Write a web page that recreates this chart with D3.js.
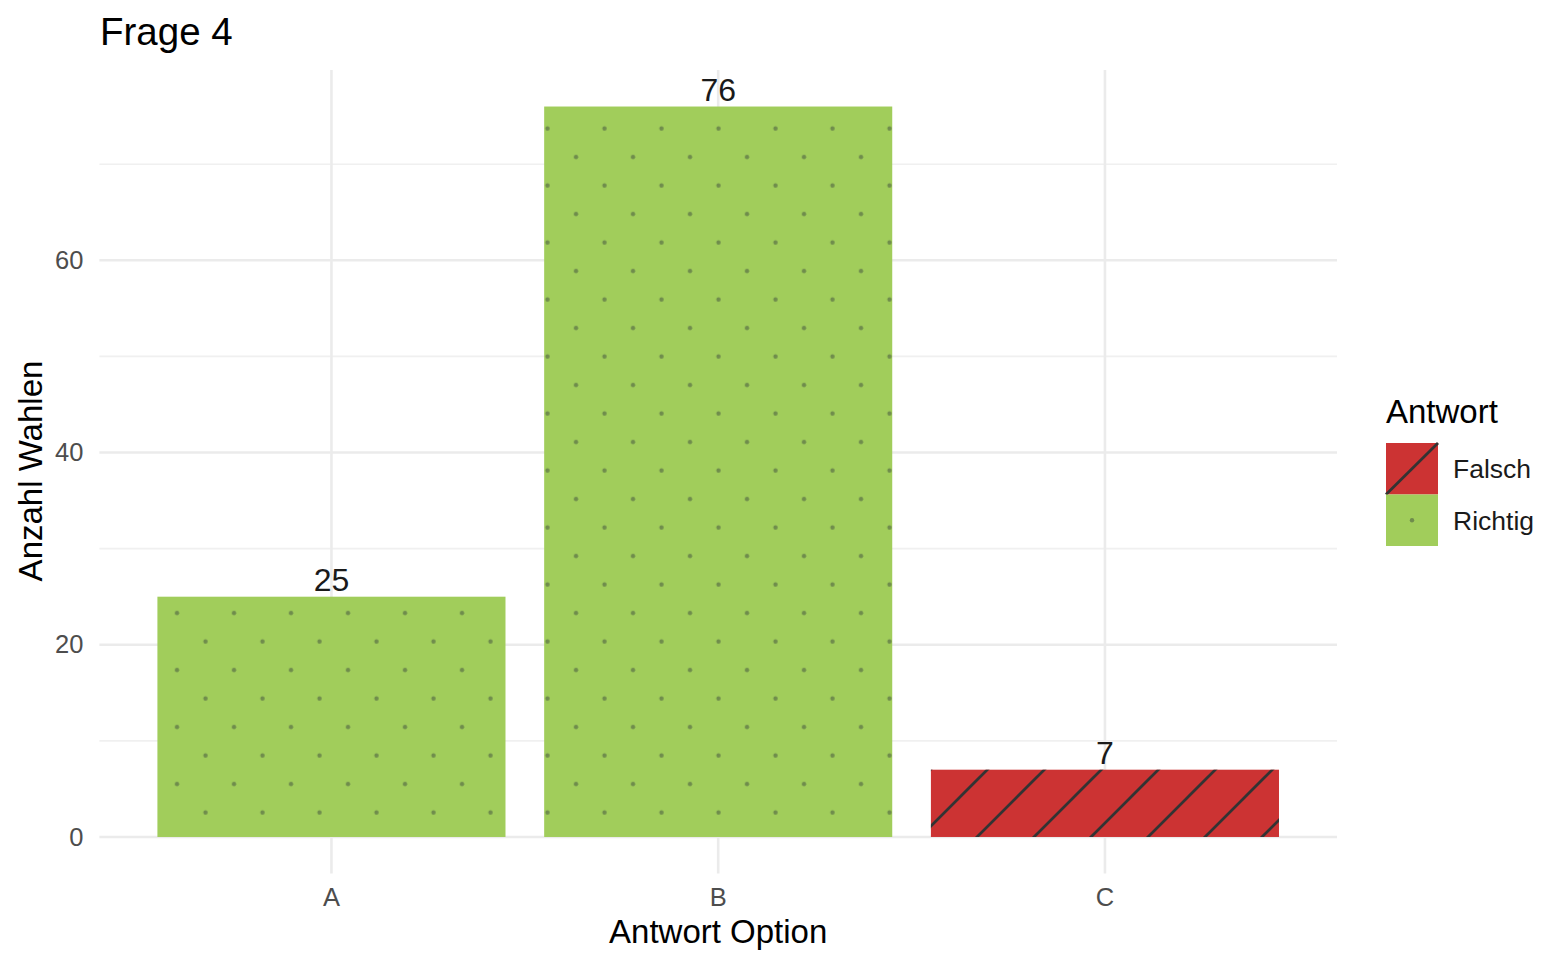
<!DOCTYPE html>
<html lang="de">
	<head>
		<meta charset="utf-8">
		<title>Frage 4</title>
		<script type="text/javascript" src="https://cdn.jsdelivr.net/npm/d3@7"></script>
		<style type="text/css">
			html, body {
				margin: 0;
				padding: 0;
				background: #ffffff;
				font-family: "Liberation Sans", Arial, sans-serif;
			}
		</style>
	</head>
	<body>
		<script type="text/javascript">

			//Data
			let categories = ["A", "B", "C"];
			let counts = [25, 76, 7];
			let answers = ["Richtig", "Richtig", "Falsch"];
			let majorTicks = [0, 20, 40, 60];
			let minorTicks = [10, 30, 50, 70];
			let legendLabels = ["Falsch", "Richtig"];

			let colors = {Falsch: "#cc3333", Richtig: "#a1cd5b"};

			//Width and height
			let w = 1568;
			let h = 968;
			let panelLeft = 99.4, panelRight = 1337, panelTop = 70, panelBottom = 873.5;

			let bars = categories.map((c, i) => ({cat: c, n: counts[i], answer: answers[i]}));

			let svg = d3.select("body")
						.append("svg")
						.attr("width", w)
						.attr("height", h);

			let xScale = d3.scaleBand()
							.domain(categories)
							.range([panelLeft, panelRight])
							.paddingInner(0.1)
							.paddingOuter(0.15);

			// ggplot style expansion: 5% on each side of 0..76
			let yMax = d3.max(counts);
			let yScale = d3.scaleLinear()
							.domain([-0.05 * yMax, yMax * 1.05])
							.range([panelBottom, panelTop]);

			// patterns
			let defs = svg.append("defs");

			let dots = defs.append("pattern")
				.attr("id", "dots")
				.attr("patternUnits", "userSpaceOnUse")
				.attr("x", -8.25)
				.attr("y", 28.75)
				.attr("width", 57)
				.attr("height", 57);
			dots.selectAll("circle")
				.data([[14.25, 14.25], [42.75, 42.75]])
				.enter()
				.append("circle")
				.attr("cx", d => d[0])
				.attr("cy", d => d[1])
				.attr("r", 2.2)
				.attr("fill", "#6f8c4c");

			defs.append("pattern")
				.attr("id", "hatch")
				.attr("patternUnits", "userSpaceOnUse")
				.attr("x", 47)
				.attr("y", 0)
				.attr("width", 57)
				.attr("height", 57)
				.append("path")
				.attr("d", "M-10,10L10,-10M0,57L57,0M47,67L67,47")
				.attr("stroke", "#333333")
				.attr("stroke-width", 2.8);

			//Grid
			let grid = svg.append("g");

			grid.selectAll("line.minor")
				.data(minorTicks)
				.enter()
				.append("line")
				.attr("class", "minor")
				.attr("x1", panelLeft)
				.attr("x2", panelRight)
				.attr("y1", d => yScale(d))
				.attr("y2", d => yScale(d))
				.attr("stroke", "#f0f0f0")
				.attr("stroke-width", 1.6);

			grid.selectAll("line.major")
				.data(majorTicks)
				.enter()
				.append("line")
				.attr("class", "major")
				.attr("x1", panelLeft)
				.attr("x2", panelRight)
				.attr("y1", d => yScale(d))
				.attr("y2", d => yScale(d))
				.attr("stroke", "#ebebeb")
				.attr("stroke-width", 2.6);

			grid.selectAll("line.vert")
				.data(categories)
				.enter()
				.append("line")
				.attr("class", "vert")
				.attr("x1", d => xScale(d) + xScale.bandwidth() / 2)
				.attr("x2", d => xScale(d) + xScale.bandwidth() / 2)
				.attr("y1", panelTop)
				.attr("y2", panelBottom)
				.attr("stroke", "#ebebeb")
				.attr("stroke-width", 2.6);

			//Bars
			let barG = svg.append("g");

			barG.selectAll("rect.fill")
				.data(bars)
				.enter()
				.append("rect")
				.attr("class", "fill")
				.attr("x", d => xScale(d.cat))
				.attr("y", d => yScale(d.n))
				.attr("width", xScale.bandwidth())
				.attr("height", d => yScale(0) - yScale(d.n))
				.attr("fill", d => colors[d.answer]);

			barG.selectAll("rect.pat")
				.data(bars)
				.enter()
				.append("rect")
				.attr("class", "pat")
				.attr("x", d => xScale(d.cat))
				.attr("y", d => yScale(d.n))
				.attr("width", xScale.bandwidth())
				.attr("height", d => yScale(0) - yScale(d.n))
				.attr("fill", d => d.answer == "Falsch" ? "url(#hatch)" : "url(#dots)");

			// value labels
			svg.selectAll("text.val")
				.data(bars)
				.enter()
				.append("text")
				.attr("class", "val")
				.attr("x", d => xScale(d.cat) + xScale.bandwidth() / 2)
				.attr("y", d => yScale(d.n) - 6)
				.attr("text-anchor", "middle")
				.attr("font-size", "32px")
				.attr("fill", "#1a1a1a")
				.text(d => d.n);

			//Axes
			let yAxis = d3.axisLeft(yScale)
				.tickValues(majorTicks)
				.tickSize(0)
				.tickPadding(16);

			let yG = svg.append("g")
				.attr("transform", "translate(" + panelLeft + ",0)")
				.call(yAxis);
			yG.select(".domain").remove();
			yG.selectAll("text")
				.attr("font-family", "Liberation Sans, Arial, sans-serif")
				.attr("font-size", "25.5px")
				.attr("fill", "#4d4d4d");

			let xAxis = d3.axisBottom(xScale)
				.tickSize(0)
				.tickPadding(14);

			let xG = svg.append("g")
				.attr("transform", "translate(0," + panelBottom + ")")
				.call(xAxis);
			xG.select(".domain").remove();
			xG.selectAll("text")
				.attr("font-family", "Liberation Sans, Arial, sans-serif")
				.attr("font-size", "25.5px")
				.attr("fill", "#4d4d4d");

			//Titles
			svg.append("text")
				.attr("x", 100)
				.attr("y", 45)
				.attr("font-size", "38.5px")
				.attr("fill", "#000000")
				.text("Frage 4");

			svg.append("text")
				.attr("x", (panelLeft + panelRight) / 2)
				.attr("y", 943)
				.attr("text-anchor", "middle")
				.attr("font-size", "33px")
				.attr("fill", "#000000")
				.text("Antwort Option");

			svg.append("text")
				.attr("transform", "rotate(-90)")
				.attr("x", -471)
				.attr("y", 42)
				.attr("text-anchor", "middle")
				.attr("font-size", "33px")
				.attr("fill", "#000000")
				.text("Anzahl Wahlen");

			//Legend
			let legend = svg.append("g")
				.attr("transform", "translate(1386,0)");

			legend.append("text")
				.attr("x", 0)
				.attr("y", 423)
				.attr("font-size", "33px")
				.attr("fill", "#000000")
				.text("Antwort");

			let keySize = 51.5;
			let keyTop = 443;

			let keys = legend.selectAll("g.key")
				.data(legendLabels)
				.enter()
				.append("g")
				.attr("class", "key")
				.attr("transform", (d, i) => "translate(0," + (keyTop + i * keySize) + ")");

			keys.append("rect")
				.attr("width", 52)
				.attr("height", keySize)
				.attr("fill", d => colors[d]);

			keys.filter(d => d == "Falsch")
				.append("line")
				.attr("x1", 0)
				.attr("y1", keySize)
				.attr("x2", 52)
				.attr("y2", 0)
				.attr("stroke", "#333333")
				.attr("stroke-width", 2.8);

			keys.filter(d => d == "Richtig")
				.append("circle")
				.attr("cx", 26)
				.attr("cy", keySize / 2)
				.attr("r", 2.2)
				.attr("fill", "#6f8c4c");

			keys.append("text")
				.attr("x", 67)
				.attr("y", keySize / 2)
				.attr("dy", "0.35em")
				.attr("font-size", "26.5px")
				.attr("fill", "#1a1a1a")
				.text(d => d);

		</script>
	</body>
</html>
